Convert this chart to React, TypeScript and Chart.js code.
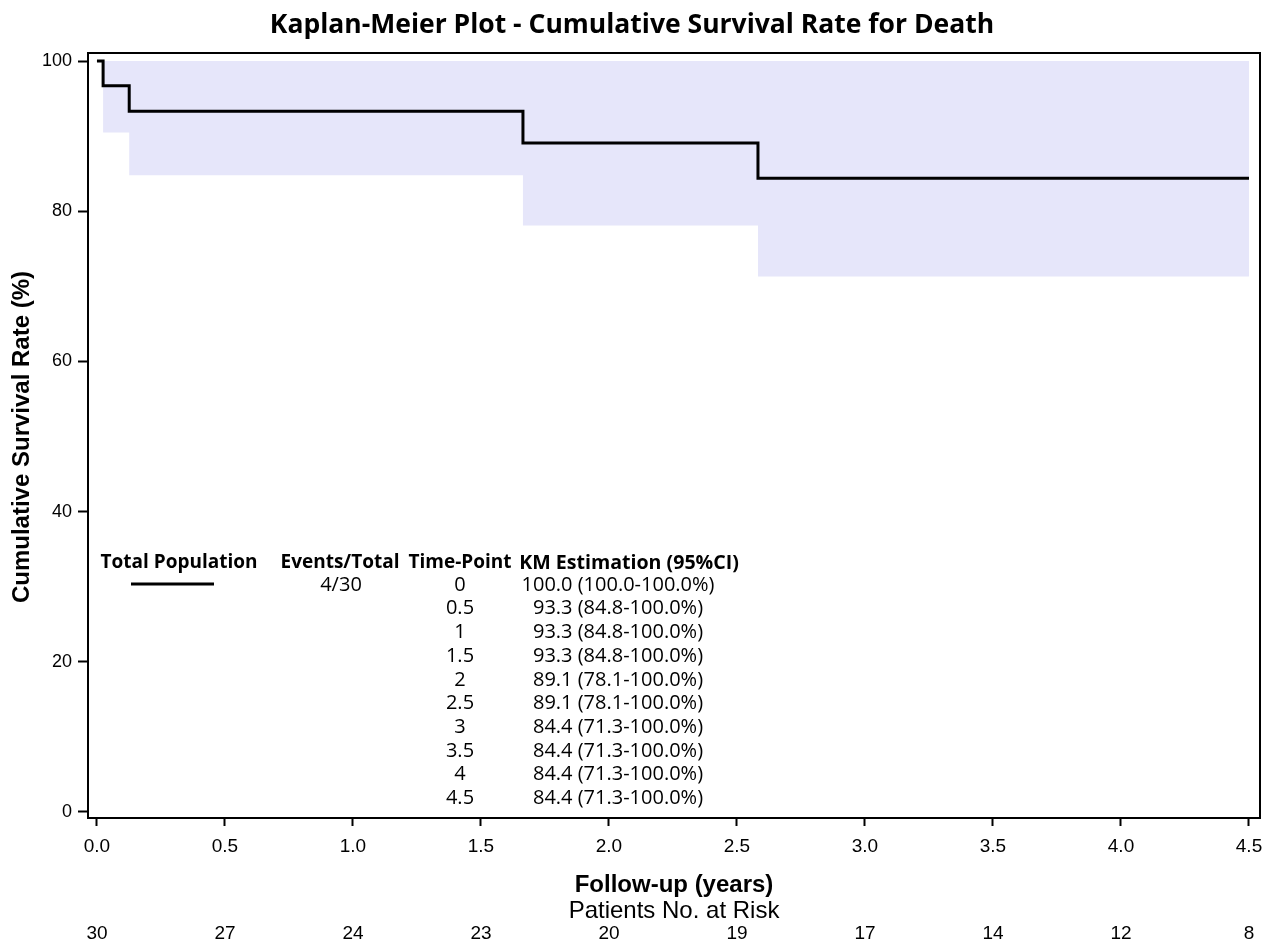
import { useEffect, useRef } from 'react';
import { Chart, registerables } from 'chart.js';

Chart.register(...registerables);

const FONT = '"Open Sans", "DejaVu Sans", sans-serif';
const ARIAL = '"Liberation Sans", Arial, sans-serif';

const TITLE = 'Kaplan-Meier Plot - Cumulative Survival Rate for Death';
const Y_TITLE = 'Cumulative Survival Rate (%)';
const X_TITLE = 'Follow-up (years)';
const RISK_TITLE = 'Patients No. at Risk';

// Kaplan-Meier step curve (time in years, survival %)
const eventTimes = [0, 0.024, 0.126, 1.664, 2.582, 4.5];
const survival = [100, 96.7, 93.3, 89.1, 84.4, 84.4];

// 95% confidence band
const ciTimes = [0.024, 0.126, 1.664, 2.582, 4.5];
const ciUpper = [100, 100, 100, 100, 100];
const ciLower = [90.5, 84.8, 78.1, 71.3, 71.3];

// Axes
const xTicks = [0, 0.5, 1, 1.5, 2, 2.5, 3, 3.5, 4, 4.5];
const yTicks = [0, 20, 40, 60, 80, 100];

// Number at risk at each x tick
const atRisk = [30, 27, 24, 23, 20, 19, 17, 14, 12, 8];

// Inset table
const tableHeaders = ['Total Population', 'Events/Total', 'Time-Point', 'KM Estimation (95%CI)'];
const eventsTotal = '4/30';
const tableTimePoints = ['0', '0.5', '1', '1.5', '2', '2.5', '3', '3.5', '4', '4.5'];
const tableKM = [
  '100.0 (100.0-100.0%)',
  '93.3 (84.8-100.0%)',
  '93.3 (84.8-100.0%)',
  '93.3 (84.8-100.0%)',
  '89.1 (78.1-100.0%)',
  '89.1 (78.1-100.0%)',
  '84.4 (71.3-100.0%)',
  '84.4 (71.3-100.0%)',
  '84.4 (71.3-100.0%)',
  '84.4 (71.3-100.0%)',
];

const decorPlugin = {
  id: 'kmDecor',
  afterDraw(chart: any) {
    const { ctx, chartArea: a, scales } = chart;
    const xs = scales.x;
    ctx.save();
    // frame
    ctx.strokeStyle = '#000';
    ctx.lineWidth = 2;
    ctx.strokeRect(a.left, a.top, a.right - a.left, a.bottom - a.top);

    ctx.fillStyle = '#000';
    ctx.textAlign = 'center';
    ctx.textBaseline = 'alphabetic';

    // title
    ctx.font = `bold 26.5px ${FONT}`;
    ctx.fillText(TITLE, 632, 33);

    // y title
    ctx.save();
    ctx.translate(29, 437);
    ctx.rotate(-Math.PI / 2);
    ctx.font = `bold 24px ${ARIAL}`;
    ctx.fillText(Y_TITLE, 0, 0);
    ctx.restore();

    const cx = (a.left + a.right) / 2;
    ctx.font = `bold 24px ${ARIAL}`;
    ctx.fillText(X_TITLE, cx, 892);
    ctx.font = `24px ${ARIAL}`;
    ctx.fillText(RISK_TITLE, cx, 918);

    ctx.font = `19px ${ARIAL}`;
    atRisk.forEach((n, i) => {
      ctx.fillText(String(n), xs.getPixelForValue(xTicks[i]), 939);
    });

    // inset table
    ctx.textBaseline = 'middle';
    const colX = [179, 340, 460, 629];
    const headerSizes = [19, 19, 19, 19.6];
    tableHeaders.forEach((h, i) => {
      ctx.font = `bold ${headerSizes[i]}px ${FONT}`;
      ctx.fillText(h, colX[i], 563);
    });

    ctx.lineWidth = 3;
    ctx.beginPath();
    ctx.moveTo(131, 584);
    ctx.lineTo(214, 584);
    ctx.stroke();

    ctx.font = `20px ${FONT}`;
    ctx.fillText(eventsTotal, 341, 585);
    const rowH = 23.7;
    tableTimePoints.forEach((t, i) => {
      const y = 585 + i * rowH;
      ctx.fillText(t, 460, y);
      ctx.fillText(tableKM[i], 618, y);
    });
    ctx.restore();
  },
};

export default function App() {
  const ref = useRef<HTMLCanvasElement>(null);
  useEffect(() => {
    const canvas = ref.current;
    if (!canvas) return;
    const chart = new Chart(canvas, {
      type: 'line',
      data: {
        datasets: [
          {
            label: 'Total Population',
            data: eventTimes.map((t, i) => ({ x: t, y: survival[i] })),
            stepped: 'before',
            borderColor: '#000',
            borderWidth: 3,
            pointRadius: 0,
            fill: false,
          },
          {
            label: 'Upper CI',
            data: ciTimes.map((t, i) => ({ x: t, y: ciUpper[i] })),
            stepped: 'before',
            borderColor: 'transparent',
            borderWidth: 0,
            pointRadius: 0,
            fill: false,
          },
          {
            label: 'Lower CI',
            data: ciTimes.map((t, i) => ({ x: t, y: ciLower[i] })),
            stepped: 'before',
            borderColor: 'transparent',
            borderWidth: 0,
            pointRadius: 0,
            fill: '-1',
            backgroundColor: 'rgb(230,230,250)',
          },
        ],
      },
      options: {
        animation: false,
        responsive: false,
        layout: { padding: { top: 53, right: 12, left: 0, bottom: 0 } },
        plugins: {
          legend: { display: false },
          tooltip: { enabled: false },
          title: { display: false },
        },
        scales: {
          x: {
            type: 'linear',
            min: -0.035,
            max: 4.543,
            afterBuildTicks: (s: any) => {
              s.ticks = xTicks.map((v) => ({ value: v }));
            },
            afterFit: (s: any) => {
              s.height = 124;
            },
            border: { display: false },
            grid: {
              drawOnChartArea: false,
              drawTicks: true,
              tickLength: 8,
              tickWidth: 2,
              tickColor: '#000',
            },
            ticks: {
              font: { family: ARIAL, size: 19 },
              color: '#000',
              padding: 9,
              maxRotation: 0,
              autoSkip: false,
              callback: (v: any) => Number(v).toFixed(1),
            },
          },
          y: {
            type: 'linear',
            min: -0.8,
            max: 101.07,
            afterBuildTicks: (s: any) => {
              s.ticks = yTicks.map((v) => ({ value: v }));
            },
            afterFit: (s: any) => {
              s.width = 88;
            },
            border: { display: false },
            grid: {
              drawOnChartArea: false,
              drawTicks: true,
              tickLength: 10,
              tickWidth: 2,
              tickColor: '#000',
            },
            ticks: {
              font: { family: ARIAL, size: 18 },
              color: '#000',
              padding: 6,
              autoSkip: false,
              callback: (v: any) => String(v),
            },
          },
        },
      },
      plugins: [decorPlugin],
    } as any);
    return () => chart.destroy();
  }, []);
  return (
    <div style={{ position: 'fixed', left: 0, top: 0, width: 1272, height: 942, background: '#fff' }}>
      <canvas ref={ref} width={1272} height={942} style={{ display: 'block' }} />
    </div>
  );
}
